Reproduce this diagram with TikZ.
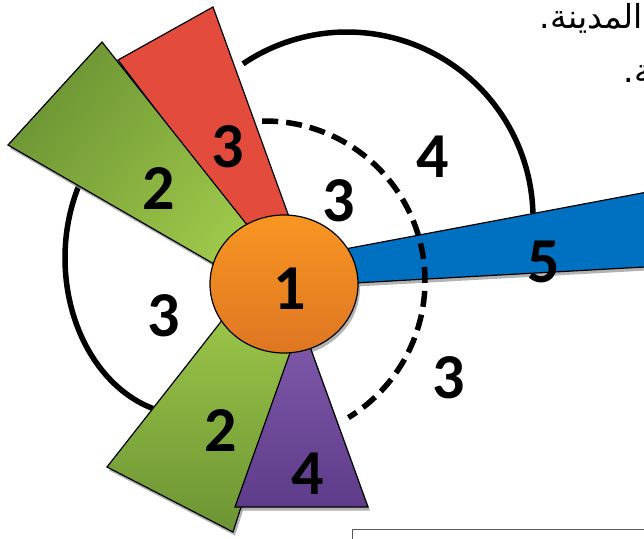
\documentclass[tikz,border=0pt]{standalone}
\usepackage{fontspec}
\setmainfont{Carlito}
\newfontfamily\arabicfont[Script=Arabic]{DejaVu Sans}
\TeXXeTstate=1
\definecolor{grnA}{RGB}{108,148,52}
\definecolor{grnB}{RGB}{158,200,74}
\definecolor{redw}{RGB}{227,76,60}
\definecolor{bluew}{RGB}{0,112,192}
\definecolor{orgA}{RGB}{248,150,34}
\definecolor{orgB}{RGB}{222,118,34}
\definecolor{purA}{RGB}{130,90,172}
\definecolor{purB}{RGB}{94,60,138}
\definecolor{shad}{RGB}{160,160,160}
\tikzset{
  num/.style={font=\fontsize{64}{64}\selectfont\bfseries, inner sep=0pt, text=black},
  wedge/.style={draw=black, line width=1.2pt, line join=miter},
  shadowfill/.style={fill=shad, opacity=0.8},
  arcline/.style={line width=5.5pt, draw=black},
  arabic/.style={font=\arabicfont\fontsize{33}{33}\selectfont, inner sep=0pt, text=black},
}
\begin{document}
\begin{tikzpicture}[x=1pt,y=-1pt]
\useasboundingbox (0,0) rectangle (644,538);
\clip (0,0) rectangle (644,538);

% solid arcs behind the wedges
\draw[arcline] plot[domain=105:209, samples=80, smooth] ({188+123*cos(\x)},{258+157*sin(\x)});
\draw[arcline] plot[domain=-124:-1.5, samples=80, smooth] ({347+186*cos(\x)},{218+186*sin(\x)});

% shadows
\begin{scope}[shift={(2,3.5)}]
  \fill[shadowfill] (102,42) -- (8,145) -- (240,279) -- (263,245) -- cycle;
  \fill[shadowfill] (238,300) -- (107,467) -- (233,532) -- (298,330) -- cycle;
  \fill[shadowfill] (301,322) -- (368,507) -- (235,507) -- cycle;
  \fill[shadowfill] (300,257.5) -- (650,191.5) -- (650,266.7) -- (300,286) -- cycle;
  \fill[shadowfill] (284,284) ellipse[x radius=74, y radius=69];
\end{scope}

% red wedge
\filldraw[wedge, fill=redw] (118,60) -- (213,7) -- (301,250) -- (270,260) -- cycle;
% upper green wedge
\shadedraw[wedge, top color=grnA, bottom color=grnB, shading angle=50]
  (102,42) -- (8,145) -- (240,279) -- (263,245) -- cycle;
% lower green wedge
\shadedraw[wedge, top color=grnB, bottom color=grnA]
  (238,300) -- (107,467) -- (233,532) -- (298,330) -- cycle;
% purple wedge
\shadedraw[wedge, top color=purA, bottom color=purB]
  (301,322) -- (368,507) -- (235,507) -- cycle;
% blue wedge
\filldraw[wedge, fill=bluew] (300,257.5) -- (650,191.5) -- (650,266.7) -- (300,286) -- cycle;
% central circle
\shadedraw[wedge, top color=orgA, bottom color=orgB] (284,284) ellipse[x radius=74, y radius=69];

% dashed arc over the blue wedge
\draw[arcline, dash pattern=on 16pt off 8pt] plot[domain=-91:58.6, samples=100, smooth] ({265+160*cos(\x)},{281+160*sin(\x)});

% numbers
\node[num] (n1) at (290,289) {1};
\node[num] (nred) at (228,147) {3};
\node[num] (ngreenup) at (159,189) {2};
\node[num] (ninner) at (339,201) {3};
\node[num] (nouter) at (433,157) {4};
\node[num] (nblue) at (544,262) {5};
\node[num] (nleft) at (164,316) {3};
\node[num] (nright) at (449,378) {3};
\node[num] (ngreenlow) at (221,431) {2};
\node[num] (npurple) at (308,474) {4};

% Arabic text (cut by the picture edge)
\node[arabic, anchor=base east] (ar1) at (643,28) {\beginR المدينة.\endR};
\node[arabic, anchor=base east] (ar2) at (662,82) {\beginR ـة.\endR};

% box at the bottom right
\draw[draw=black!65, line width=1pt] (352.5,560) -- (352.5,529.5) -- (660,529.5);
\end{tikzpicture}
\end{document}
